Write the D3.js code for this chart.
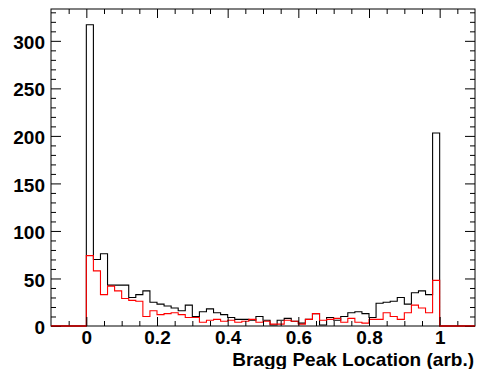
<!DOCTYPE html>
<html>
<head>
<meta charset="utf-8">
<script src="https://cdn.jsdelivr.net/npm/d3@7"></script>
<style>
  html, body { margin: 0; padding: 0; background: #fff; }
  svg { display: block; }
  text { font-family: "Liberation Sans", Arial, Helvetica, sans-serif; font-weight: bold; }
</style>
</head>
<body>
<script>
// Histogram: 50 bins of width 0.02 between 0 and 1; range shown -0.1 .. 1.1
const binLow = 0;
const binWidth = 0.02;
const allEvents = [317, 70, 76, 43, 43, 43, 30, 33, 37, 25,
                   23, 21, 19, 16, 22, 10, 15, 18, 14, 12,
                   9, 7, 7, 6, 10, 6, 1, 6, 8, 5,
                   3, 7, 13, 1, 9, 6, 10, 14, 15, 13,
                   9, 24, 25, 26, 30, 23, 35, 37, 33, 203];
const selected = [74, 58, 33, 42, 37, 29, 27, 26, 10, 16,
                  12, 13, 14, 12, 9, 9, 4, 6, 7, 5,
                  6, 4, 5, 7, 4, 5, 2, 2, 6, 5,
                  2, 7, 13, 6, 7, 8, 4, 8, 4, 3,
                  7, 7, 14, 10, 7, 14, 22, 19, 14, 48];
const xMajorTicks = [0, 0.2, 0.4, 0.6, 0.8, 1];
const xMinorTicks = [-0.05, 0.05, 0.1, 0.15, 0.25, 0.3, 0.35, 0.45, 0.5, 0.55, 0.65, 0.7, 0.75, 0.85, 0.9, 0.95, 1.05];
const yMajorTicks = [0, 50, 100, 150, 200, 250, 300];
const yMinorTicks = [10, 20, 30, 40, 60, 70, 80, 90, 110, 120, 130, 140, 160, 170, 180, 190, 210, 220, 230, 240, 260, 270, 280, 290, 310, 320, 330];
const xTitle = "Bragg Peak Location (arb.)";

const W = 478, H = 369;
const L = 51, R = 475, T = 9, B = 326;

const svg = d3.select("body").append("svg").attr("width", W).attr("height", H);

const x = d3.scaleLinear().domain([-0.1, 1.1]).range([L, R]);
const y = d3.scaleLinear().domain([0, 333.5]).range([B, T]);

function histPoints(vals) {
  const pts = [[-0.1, 0], [binLow, 0]];
  vals.forEach((v, i) => {
    pts.push([binLow + i * binWidth, v]);
    pts.push([binLow + (i + 1) * binWidth, v]);
  });
  pts.push([binLow + vals.length * binWidth, 0]);
  pts.push([1.1, 0]);
  return pts;
}
const line = d3.line().x(d => x(d[0])).y(d => y(d[1]));

svg.append("path").attr("d", line(histPoints(allEvents)))
  .attr("fill", "none").attr("stroke", "#000").attr("stroke-width", 1.1);
svg.append("path").attr("d", line(histPoints(selected)))
  .attr("fill", "none").attr("stroke", "#ff0000").attr("stroke-width", 1.1);

function styleAxis(g) {
  g.select(".domain").remove();
  g.selectAll(".tick line").attr("stroke", "#000").attr("stroke-width", 1);
}
// bottom axis
svg.append("g").attr("transform", `translate(0,${B})`)
  .call(d3.axisBottom(x).tickValues(xMinorTicks).tickSize(-5).tickFormat(""))
  .call(styleAxis);
const xb = svg.append("g").attr("transform", `translate(0,${B})`)
  .call(d3.axisBottom(x).tickValues(xMajorTicks).tickSize(-9).tickPadding(0).tickFormat(d3.format("~g")))
  .call(styleAxis);
xb.selectAll(".tick text").attr("y", 17.5).attr("dy", 0)
  .attr("font-size", 19).attr("fill", "#000")
  .style("font-family", "'Liberation Sans', Arial, sans-serif").style("font-weight", "bold");
// top axis
svg.append("g").attr("transform", `translate(0,${T})`)
  .call(d3.axisTop(x).tickValues(xMinorTicks).tickSize(-5).tickFormat(""))
  .call(styleAxis);
svg.append("g").attr("transform", `translate(0,${T})`)
  .call(d3.axisTop(x).tickValues(xMajorTicks).tickSize(-9).tickFormat(""))
  .call(styleAxis);
// left axis
svg.append("g").attr("transform", `translate(${L},0)`)
  .call(d3.axisLeft(y).tickValues(yMinorTicks).tickSize(-5).tickFormat(""))
  .call(styleAxis);
const yl = svg.append("g").attr("transform", `translate(${L},0)`)
  .call(d3.axisLeft(y).tickValues(yMajorTicks).tickSize(-10).tickPadding(0).tickFormat(d3.format("d")))
  .call(styleAxis);
yl.selectAll(".tick text").attr("x", -6).attr("dy", "0.4em")
  .attr("font-size", 19).attr("fill", "#000")
  .style("font-family", "'Liberation Sans', Arial, sans-serif").style("font-weight", "bold");
// right axis
svg.append("g").attr("transform", `translate(${R},0)`)
  .call(d3.axisRight(y).tickValues(yMinorTicks).tickSize(-5).tickFormat(""))
  .call(styleAxis);
svg.append("g").attr("transform", `translate(${R},0)`)
  .call(d3.axisRight(y).tickValues(yMajorTicks).tickSize(-10).tickFormat(""))
  .call(styleAxis);

// frame
svg.append("rect").attr("x", L).attr("y", T).attr("width", R - L).attr("height", B - T)
  .attr("fill", "none").attr("stroke", "#000").attr("stroke-width", 1);

// redraw red baseline segments on top of frame (outside 0..1)
svg.append("path").attr("d", line([[-0.1, 0], [0, 0]]))
  .attr("fill", "none").attr("stroke", "#ff0000").attr("stroke-width", 1.1);
svg.append("path").attr("d", line([[1, 0], [1.1, 0]]))
  .attr("fill", "none").attr("stroke", "#ff0000").attr("stroke-width", 1.1);

svg.append("text").attr("x", R - 1).attr("y", 365.5).attr("text-anchor", "end")
  .attr("font-size", 19).attr("fill", "#000").text(xTitle);
</script>
</body>
</html>
